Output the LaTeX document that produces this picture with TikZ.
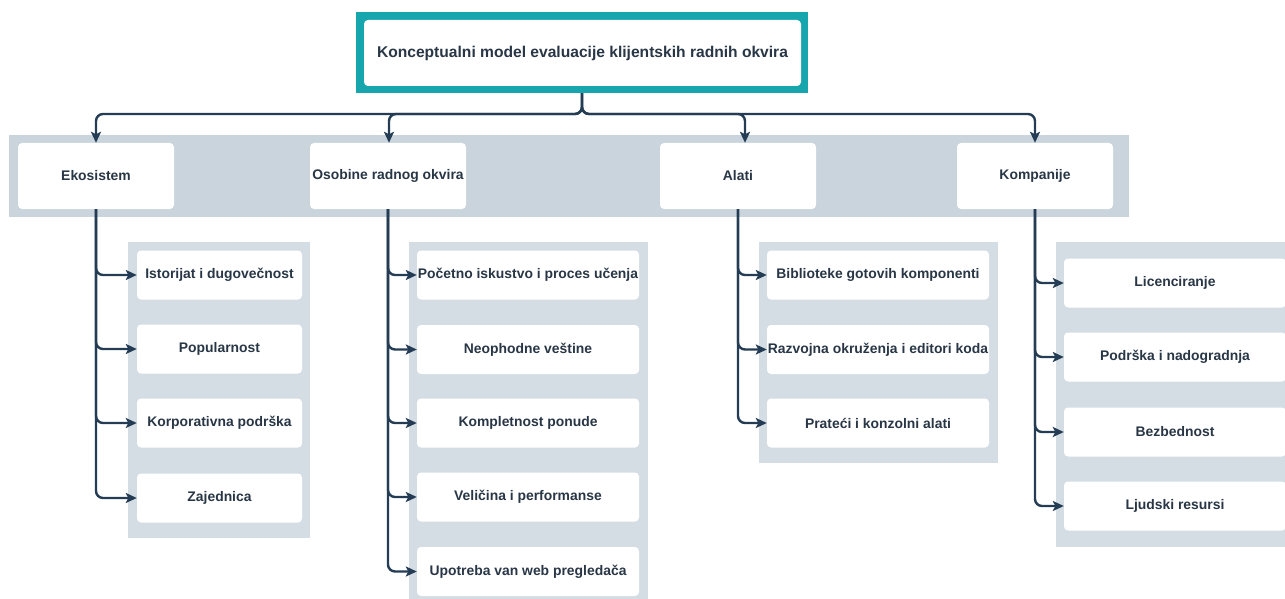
\documentclass[tikz,border=0pt]{standalone}
\usepackage{fontspec}
\setmainfont{Liberation Sans}
\usetikzlibrary{arrows.meta}
\definecolor{teal1}{RGB}{24,166,174}
\definecolor{band}{RGB}{201,212,220}
\definecolor{panel}{RGB}{212,221,228}
\definecolor{ink}{RGB}{40,54,70}
\definecolor{wire}{RGB}{36,60,84}
\begin{document}
\begin{tikzpicture}[x=1pt,y=-1pt,
  box/.style={draw=none, fill=white, rounded corners=4pt, inner sep=0pt,
    font=\bfseries\fontsize{13.9}{16}\selectfont, text=ink},
  catbox/.style={box, minimum width=156pt, minimum height=66pt},
  itemA/.style={box, minimum width=165pt, minimum height=49pt},
  itemB/.style={box, minimum width=222pt, minimum height=49pt},
  conn/.style={draw=wire, line width=2.4pt, rounded corners=7pt,
    -{Stealth[length=11pt,width=10pt,inset=2.5pt]}},
]
\useasboundingbox (0,0) rectangle (1285,599);
% background panels
\fill[band] (9,135) rectangle (1129,217);
\fill[panel] (128,242) rectangle (310,538);
\fill[panel] (409,242) rectangle (648,605);
\fill[panel] (759,242) rectangle (998,463);
\fill[panel] (1056,242) rectangle (1300,547);

% title
\node[fill=teal1, minimum width=452pt, minimum height=81pt, inner sep=0pt] (frame) at (582,52.5) {};
\node[box, minimum width=437pt, minimum height=66pt, font=\bfseries\fontsize{15.6}{18}\selectfont] (title) at (582.5,53) {Konceptualni model evaluacije klijentskih radnih okvira};

% categories
\node[catbox] (eko) at (96,176) {Ekosistem};
\node[catbox] (oso) at (388,176) {Osobine radnog okvira};
\node[catbox] (ala) at (738,176) {Alati};
\node[catbox] (kom) at (1035,176) {Kompanije};

% Ekosistem items
\node[itemA] (e1) at (219.5,275) {Istorijat i dugovečnost};
\node[itemA] (e2) at (219.5,349) {Popularnost};
\node[itemA] (e3) at (219.5,423) {Korporativna podrška};
\node[itemA] (e4) at (219.5,498) {Zajednica};

% Osobine items
\node[itemB] (o1) at (528,275) {Početno iskustvo i proces učenja};
\node[itemB] (o2) at (528,349.5) {Neophodne veštine};
\node[itemB] (o3) at (528,423) {Kompletnost ponude};
\node[itemB] (o4) at (528,497) {Veličina i performanse};
\node[itemB] (o5) at (528,571.5) {Upotreba van web pregledača};

% Alati items
\node[itemB] (a1) at (878,275) {Biblioteke gotovih komponenti};
\node[itemB] (a2) at (878,349.5) {Razvojna okruženja i editori koda};
\node[itemB] (a3) at (878,423) {Prateći i konzolni alati};

% Kompanije items
\node[itemB] (k1) at (1175,283) {Licenciranje};
\node[itemB] (k2) at (1175,357) {Podrška i nadogradnja};
\node[itemB] (k3) at (1175,432) {Bezbednost};
\node[itemB] (k4) at (1175,506) {Ljudski resursi};

% top connectors
\coordinate (bus) at (582,114);
\draw[conn] (frame.south) -- (bus) -| (eko.north);
\draw[conn] (frame.south) -- (bus) -| (kom.north);
\draw[conn] (frame.south) -- (bus) -| ([xshift=1pt]oso.north);
\draw[conn] (frame.south) -- (bus) -| ([xshift=7pt]ala.north);

% sub connectors
\foreach \i in {1,...,4} \draw[conn] (eko.south) |- (e\i.west);
\foreach \i in {1,...,5} \draw[conn] (oso.south) |- (o\i.west);
\foreach \i in {1,...,3} \draw[conn] (ala.south) |- (a\i.west);
\foreach \i in {1,...,4} \draw[conn] (kom.south) |- (k\i.west);
\end{tikzpicture}
\end{document}
